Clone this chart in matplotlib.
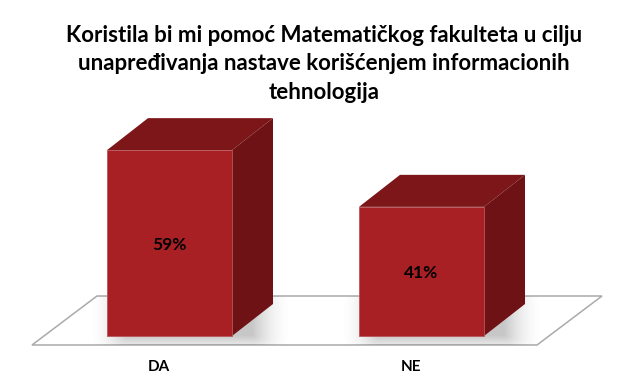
import numpy as np
import matplotlib
matplotlib.use("Agg")
import matplotlib.pyplot as plt
from matplotlib.patches import Polygon

TITLE = "Koristila bi mi pomoć Matematičkog fakulteta u cilju\nunapređivanja nastave korišćenjem informacionih\ntehnologija"
categories = ["DA", "NE"]
values = [59, 41]
value_labels = ["59%", "41%"]

W, H = 624, 380
PX_X = 252.0   # pixels per category
PX_Y = 3.15    # pixels per percent
X0 = 169.5     # pixel of first category
Y0 = 336.0     # pixel of zero

BAR_W = 125 / PX_X
DX = 41 / PX_X
DY = 32 / PX_Y

FRONT = "#a81f24"
TOP = "#7c1619"
SIDE = "#6e1215"
EDGE = "#b8565a"

fig = plt.figure(figsize=(6.24, 3.80), dpi=100)
ax = fig.add_axes([0, 0, 1, 1])
ax.set_xlim(-X0 / PX_X, (W - X0) / PX_X)
ax.set_ylim(-(H - Y0) / PX_Y, Y0 / PX_Y)
ax.axis("off")

x = np.arange(len(categories))

# floor
fl = -9 / PX_Y
left = x[0] - BAR_W / 2 - 75 / PX_X
right = x[-1] + BAR_W / 2 + 53 / PX_X
floor = Polygon([(left, fl), (left + 65 / PX_X, 40 / PX_Y),
                 (right + 65 / PX_X, 40 / PX_Y), (right, fl)],
                closed=True, facecolor="white", edgecolor="#aaaaaa", lw=1.1, zorder=1)
ax.add_patch(floor)

# soft shadow on the floor
gx = np.linspace(*ax.get_xlim(), 624)
gy = np.linspace(*ax.get_ylim(), 380)
xx, yy = np.meshgrid(gx, gy)
alpha = np.zeros_like(xx)
for xi in x:
    ddx = np.maximum(np.abs(xx - (xi + DX / 2)) - BAR_W / 2, 0) * PX_X
    ddy = np.maximum(np.abs(yy - DY / 2) - DY / 2, 0) * PX_Y
    d = np.hypot(ddx, ddy * 1.5)
    alpha = np.maximum(alpha, 0.22 * np.clip(1 - d / 42, 0, 1) ** 2)
rgba = np.zeros(xx.shape + (4,))
rgba[..., 3] = alpha
im = ax.imshow(rgba, extent=(gx[0], gx[-1], gy[0], gy[-1]), origin="lower",
               aspect="auto", zorder=2)
im.set_clip_path(floor)

# 3d bars
for xi, v in zip(x, values):
    l, r = xi - BAR_W / 2, xi + BAR_W / 2
    ax.add_patch(Polygon([(l, v), (l + DX, v + DY), (r + DX, v + DY), (r, v)],
                         closed=True, facecolor=TOP, edgecolor="none", zorder=3))
    ax.add_patch(Polygon([(r, 0), (r + DX, DY), (r + DX, v + DY), (r, v)],
                         closed=True, facecolor=SIDE, edgecolor="none", zorder=3))
ax.bar(x, values, width=BAR_W, color=FRONT, edgecolor=EDGE, linewidth=0.6, zorder=4)

font = ["Lato", "DejaVu Sans"]
for xi, v, lab in zip(x, values, value_labels):
    ax.text(xi, v / 2 - 1.5 / PX_Y, lab, ha="center", va="center", fontsize=12.5,
            fontweight="bold", family=font, color="black", zorder=5)
for xi, c in zip(x, categories):
    ax.text(xi - 11 / PX_X, -31 / PX_Y, c, ha="center", va="center", fontsize=11,
            fontweight="bold", family=font, color="black")

fig.text(324 / W, 1 - 64 / H, TITLE, ha="center", va="center", fontsize=16,
         fontweight="bold", family=font, color="black", linespacing=1.42)

fig.savefig("out.png", dpi=100)
